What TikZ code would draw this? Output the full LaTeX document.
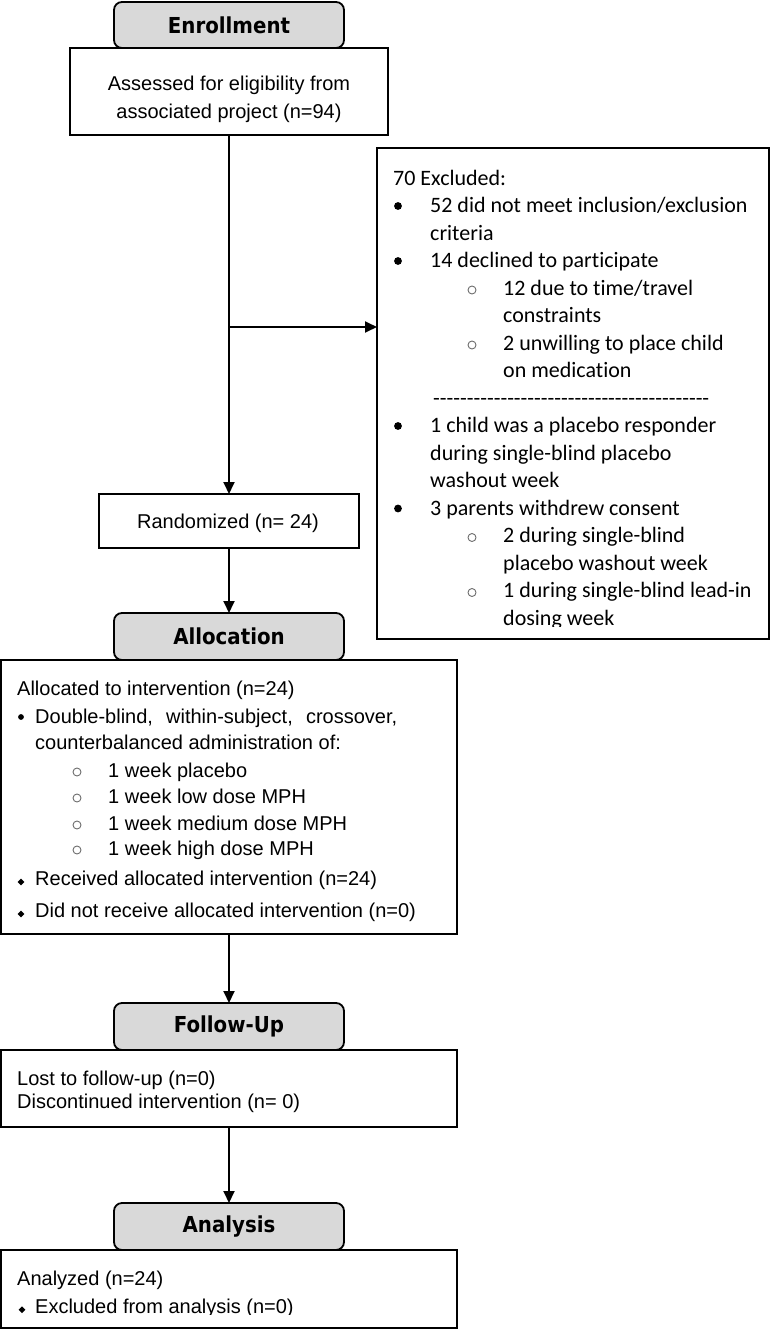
\documentclass[tikz,border=0pt]{standalone}
\usepackage{fontspec}
\setmainfont{Liberation Sans}
\newfontfamily\calib{Carlito}[Ligatures=NoCommon]
\newfontfamily\hdrfont{DejaVu Sans Condensed}
\usetikzlibrary{arrows.meta}
\definecolor{hdrgray}{RGB}{217,217,217}
\definecolor{ringgray}{RGB}{110,110,110}
\newcommand\mkbox[5]{\node[box, minimum width={#4-#2}, minimum height={#5-#3}] (#1) at ({(#2+#4)/2},{(#3+#5)/2}) {};}
\newcommand\dashrow{\foreach \k in {1,...,41}{-\kern0pt}}
\begin{document}
\begin{tikzpicture}[x=1pt,y=-1pt,
  box/.style={draw=black, line width=1.8pt, inner sep=0pt, outer sep=0pt, fill=white},
  hdr/.style={draw=black, line width=1.8pt, rounded corners=8pt, fill=hdrgray, inner sep=0pt, outer sep=0pt,
    font=\hdrfont\bfseries\fontsize{22}{26}\selectfont, minimum width=230pt, minimum height=46pt},
  arr/.style={line width=1.8pt, -{Triangle[length=12pt,width=11pt]}},
  lt/.style={anchor=base west, inner sep=0pt, font=\fontsize{20}{24}\selectfont},
  ct/.style={anchor=base, inner sep=0pt, font=\fontsize{20}{24}\selectfont},
  xt/.style={anchor=base west, inner sep=0pt, font=\calib\fontsize{22}{26}\selectfont},
  dotb/.style={fill=black},
  ringb/.style={draw=ringgray, line width=0.9pt},
]
\useasboundingbox (0,0) rectangle (771,1330);
\fill[white] (0,0) rectangle (771,1330);

% boxes
\mkbox{enr}{70}{48}{388}{135}
\mkbox{excl}{377}{148}{769}{639}
\mkbox{rand}{99}{494}{359}{548}
\mkbox{alloc}{1}{660}{457}{934}
\mkbox{fu}{1}{1050}{457}{1127}
\mkbox{an}{1}{1250}{457}{1328}

% headers
\node[hdr] (enrhdr) at (229,25) {Enrollment};
\node[hdr, minimum height=47pt] (allochdr) at (229,636.5) {Allocation};
\node[hdr, minimum height=47pt] (fuhdr) at (229,1026.5) {Follow-Up};
\node[hdr, minimum height=47pt] (anhdr) at (229,1226.5) {Analysis};

% connectors
\draw[arr] (enr.south) -- (rand.north);
\coordinate (br) at (229,327);
\draw[arr] (br) -- (br -| excl.west);
\draw[arr] (rand.south) -- (allochdr.north);
\draw[arr] (alloc.south) -- (fuhdr.north);
\draw[arr] (fu.south) -- (anhdr.north);

% enrollment text
\node[ct] (enr1) at (229,90) {Assessed for eligibility from};
\node[ct] (enr2) at (229,118) {associated project (n=94)};
\node[ct] (rand1) at (228,528) {Randomized (n= 24)};

% excluded text
\foreach \yy/\xx/\txt [count=\i] in {
  185/393/{70 Excluded:},
  212.5/430/{52 did not meet inclusion/exclusion},
  240/430/{criteria},
  267.5/430/{14 declined to participate},
  295/503/{12 due to time/travel},
  322.5/503/{constraints},
  350/503/{2 unwilling to place child},
  377.5/503/{on medication},
  432.5/430/{1 child was a placebo responder},
  460/430/{during single-blind placebo},
  487.5/430/{washout week},
  515/430/{3 parents withdrew consent},
  542.5/503/{2 during single-blind},
  570/503/{placebo washout week},
  597.5/503/{1 during single-blind lead-in}}
  \node[xt] (ex\i) at (\xx,\yy) {\txt};
\node[xt] (exdash) at (433,405) {\dashrow};
\begin{scope}
  \clip (377,148) rectangle (769,626);
  \node[xt] (exlast) at (503,625) {dosing week};
\end{scope}
\foreach \yy in {212.5,267.5,432.5,515} \fill[dotb] (398,\yy-6.5) circle (3.9);
\foreach \yy in {295,350,542.5,597.5} \draw[ringb] (472,\yy-5) circle (4);

% allocation text
\node[lt] (al1) at (17,695) {Allocated to intervention (n=24)};
\node[lt] (al2) at (35,723) {\makebox[362pt][s]{Double-blind, within-subject, crossover,}};
\node[lt] (al3) at (35,749) {counterbalanced administration of:};
\foreach \yy/\txt [count=\i] in {777/{1 week placebo}, 803/{1 week low dose MPH}, 830/{1 week medium dose MPH}, 855/{1 week high dose MPH}}{
  \node[lt] (alw\i) at (108,\yy) {\txt};
  \draw[ringb] (77,\yy-5) circle (4);
}
\node[lt] (al8) at (35,885) {Received allocated intervention (n=24)};
\node[lt] (al9) at (35,917) {Did not receive allocated intervention (n=0)};
\fill[dotb] (21,717) circle (2.9);
\foreach \yy in {882,914} \fill[dotb] (21,\yy-3.4) -- (24.4,\yy) -- (21,\yy+3.4) -- (17.6,\yy) -- cycle;

% follow-up text
\node[lt] (fu1) at (17,1085) {Lost to follow-up (n=0)};
\node[lt] (fu2) at (17,1108) {Discontinued intervention (n= 0)};

% analysis text
\node[lt] (an1) at (17,1285) {Analyzed (n=24)};
\fill[dotb] (22,1306.4) -- (25.4,1309.8) -- (22,1313.2) -- (18.6,1309.8) -- cycle;
\begin{scope}
  \clip (1,1250) rectangle (457,1314);
  \node[lt] (an2) at (35,1313) {Excluded from analysis (n=0)};
\end{scope}
\end{tikzpicture}
\end{document}
